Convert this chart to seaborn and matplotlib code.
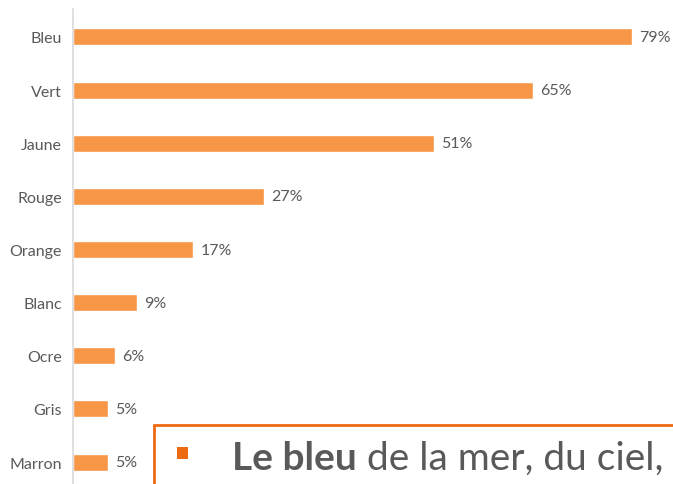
import seaborn as sb
import matplotlib.pyplot as plt
import matplotlib.patches as mpatches
import pandas as pd

# Data
colours = ["Bleu", "Vert", "Jaune", "Rouge", "Orange", "Blanc", "Ocre", "Gris", "Marron"]
shares = [79, 65, 51, 27, 17, 9, 6, 5, 5]
labels = [str(v) + "%" for v in shares]

df = pd.DataFrame({"couleur": colours, "part": shares})

sb.set_style("white")
plt.rcParams['font.family'] = ['Lato', 'DejaVu Sans']

fig = plt.figure(figsize=(6.73, 4.85), dpi=100)
# axes in pixel terms: left edge at x=73, top at y=10
ax = fig.add_axes([73 / 673, 0, 600 / 673, 475 / 485])

sb.barplot(data=df, x="part", y="couleur", color="#F79646", width=0.32,
           saturation=1, ax=ax)

ax.set_xlim(0, 600 / 7.08)
ax.set_ylim(8.414, -0.527)

# Value labels
for i, (v, tx) in enumerate(zip(shares, labels)):
    ax.text(v + 1.0, i, tx, va="center", ha="left", fontsize=11.5, color="#595959")

# Amend axes
for side in ["top", "right", "bottom"]:
    ax.spines[side].set_visible(False)
ax.spines["left"].set_color("#D9D9D9")
ax.spines["left"].set_linewidth(1.2)
ax.set(xlabel="", ylabel="")
ax.set_xticks([])
ax.tick_params(axis="y", length=0, pad=8, labelsize=11.5, labelcolor="#595959")

# Overlay text box (slide element)
box = mpatches.Rectangle((154 / 673, -0.1), 1.0, (485 - 426) / 485 + 0.1,
                         transform=fig.transFigure, facecolor="white",
                         edgecolor="#EE6A12", linewidth=2, zorder=5)
fig.patches.append(box)
bullet = mpatches.Rectangle((177 / 673, (485 - 460) / 485), 11 / 673, 12 / 485,
                            transform=fig.transFigure, facecolor="#EE6A12",
                            edgecolor="none", zorder=6)
fig.patches.append(bullet)

t1 = fig.text(232 / 673, (485 - 470) / 485, "Le bleu", fontsize=28, fontweight="bold",
              color="#595959", zorder=7)
fig.canvas.draw()
bb = t1.get_window_extent()
fig.text((bb.x1 + 10) / 673, (485 - 470) / 485, "de la mer, du ciel,", fontsize=28,
         color="#595959", zorder=7)

fig.savefig("out.png", dpi=100)
